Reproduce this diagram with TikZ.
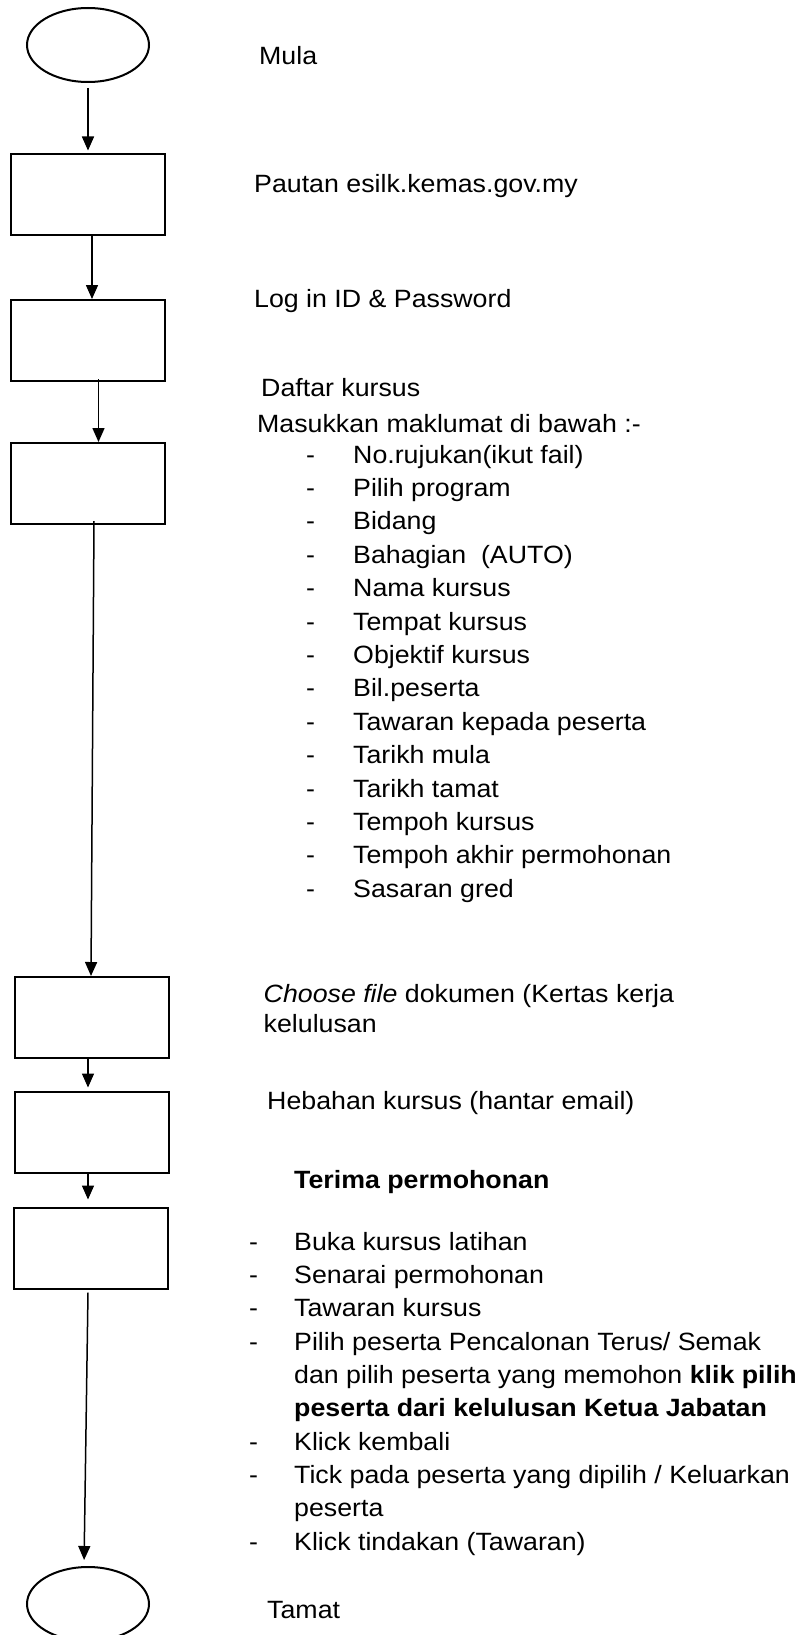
\documentclass[tikz,border=0pt]{standalone}
\usepackage{fontspec}
\setmainfont{Liberation Sans}[FakeStretch=1.07]
\usetikzlibrary{arrows.meta,shapes.geometric}
\tikzset{
  stepbox/.style={draw, line width=2pt, rectangle, inner sep=0pt, minimum width=154pt, minimum height=81pt},
  term/.style={draw, line width=2pt, ellipse, inner sep=0pt, minimum width=122pt, minimum height=74pt},
  flow/.style={line width=1.5pt, -{Triangle[length=14pt,width=12pt]}},
  lbl/.style={anchor=base west, inner sep=0pt, font=\fontsize{25}{30}\selectfont},
}
\begin{document}
\begin{tikzpicture}[x=1pt,y=-1pt]
\useasboundingbox (0,0) rectangle (809,1635);
\clip (0,0) rectangle (809,1635);
\fill[white] (0,0) rectangle (809,1635);

% shapes
\node[term] (e1) at (88,45) {};
\node[stepbox] (b1) at (88,194) {};
\node[stepbox] (b2) at (88,340.5) {};
\node[stepbox] (b3) at (88,483.5) {};
\node[stepbox] (b4) at (92.25,1017.5) {};
\node[stepbox] (b5) at (92.25,1132) {};
\node[stepbox] (b6) at (90.5,1248) {};
\node[term] (e2) at (88,1604) {};

% connectors
\draw[flow] ([yshift=-5pt]e1.south) -- ([yshift=2pt]b1.north);
\draw[flow] ([xshift=4pt]b1.south) -- ([xshift=4pt]b2.north);
\draw[flow] ([xshift=10.5pt,yshift=3pt]b2.south) -- ([xshift=10.5pt]b3.north);
\draw[flow] ([xshift=6pt,yshift=4pt]b3.south) -- ([xshift=-1.25pt]b4.north);
\draw[flow, shorten >=3pt] ([xshift=-4.25pt]b4.south) -- ([xshift=-4.25pt]b5.north);
\draw[flow, shorten >=7pt] ([xshift=-4.25pt]b5.south) -- ([xshift=-2.5pt]b6.north);
\draw[flow, shorten >=6pt] ([xshift=-2.5pt,yshift=-3pt]b6.south) -- ([xshift=-4pt]e2.north);

% labels
\node[lbl] (tmula) at (259,65) {Mula};
\node[lbl] (tpautan) at (254,192) {Pautan esilk.kemas.gov.my};
\node[lbl] (tlogin) at (254,307) {Log in ID \& Password};
\node[lbl] (tdaftar) at (261,396) {Daftar kursus};
\node[lbl] (tmasuk) at (257,432) {Masukkan maklumat di bawah :-};

\foreach \t [count=\i from 0] in {No.rujukan(ikut fail), Pilih program, Bidang, Bahagian\ \ (AUTO), Nama kursus, Tempat kursus, Objektif kursus, Bil.peserta, Tawaran kepada peserta, Tarikh mula, Tarikh tamat, Tempoh kursus, Tempoh akhir permohonan, Sasaran gred}{
  \node[lbl] (da\i) at (306,463+33.4*\i) {-};
  \node[lbl] (ia\i) at (353,463+33.4*\i) {\t};
}

\node[lbl] (tchoose) at (263.5,1002) {\textit{Choose file} dokumen (Kertas kerja};
\node[lbl] (tchoose2) at (263.5,1032) {kelulusan};
\node[lbl] (thebah) at (267,1109) {Hebahan kursus (hantar email)};
\node[lbl] (tterima) at (294,1188) {\textbf{Terima permohonan}};

\node[lbl] (db1) at (249,1250) {-};
\node[lbl] (ib1) at (294,1250) {Buka kursus latihan};
\node[lbl] (db2) at (249,1283.3) {-};
\node[lbl] (ib2) at (294,1283.3) {Senarai permohonan};
\node[lbl] (db3) at (249,1316.6) {-};
\node[lbl] (ib3) at (294,1316.6) {Tawaran kursus};
\node[lbl] (db4) at (249,1350) {-};
\node[lbl] (ib4) at (294,1350) {Pilih peserta Pencalonan Terus/ Semak};
\node[lbl] (ib4b) at (294,1383) {dan pilih peserta yang memohon \textbf{klik pilih}};
\node[lbl] (ib4c) at (294,1416.5) {\textbf{peserta dari kelulusan Ketua Jabatan}};
\node[lbl] (db5) at (249,1450) {-};
\node[lbl] (ib5) at (294,1450) {Klick kembali};
\node[lbl] (db6) at (249,1483) {-};
\node[lbl] (ib6) at (294,1483) {Tick pada peserta yang dipilih / Keluarkan};
\node[lbl] (ib6b) at (294,1516) {peserta};
\node[lbl] (db7) at (249,1550) {-};
\node[lbl] (ib7) at (294,1550) {Klick tindakan (Tawaran)};

\node[lbl] (ttamat) at (267,1618) {Tamat};
\end{tikzpicture}
\end{document}
